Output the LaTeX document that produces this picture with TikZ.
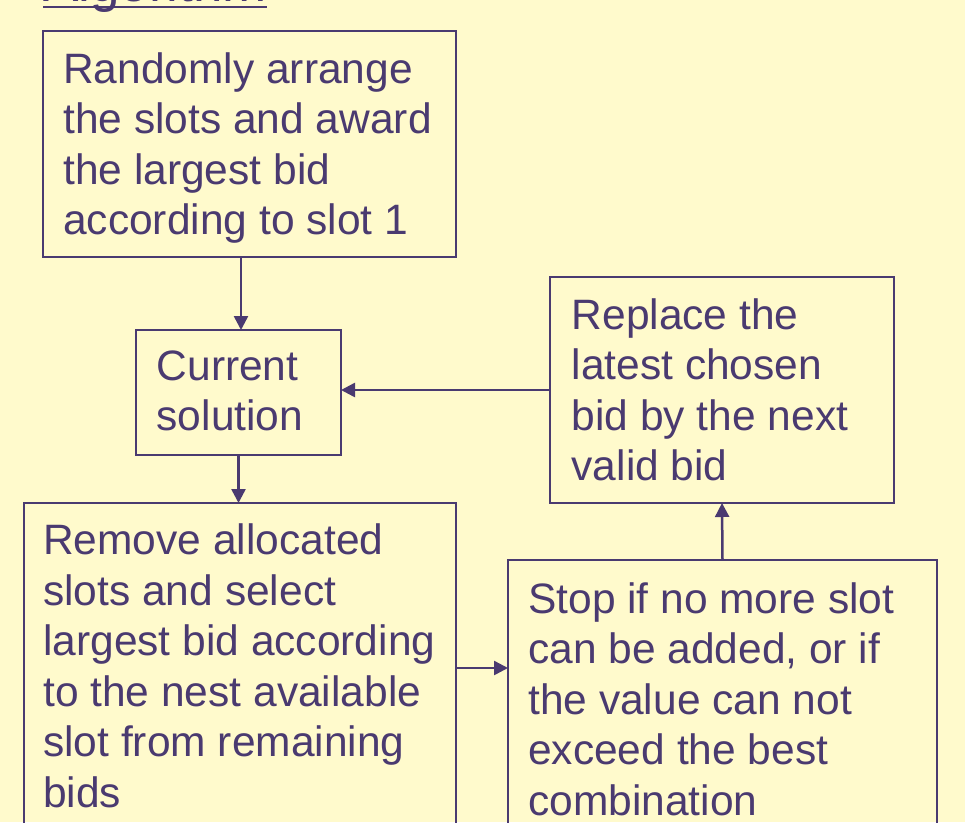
\documentclass[tikz,border=0pt]{standalone}
\usepackage{fontspec}
\setmainfont{Liberation Sans}
\usetikzlibrary{arrows.meta}
\definecolor{bg}{RGB}{255,250,204}
\definecolor{fg}{RGB}{74,58,112}
\newcommand\firstline{\rule{0pt}{36pt}}
\begin{document}
\begin{tikzpicture}[x=1pt,y=-1pt,
  box/.style={draw=fg, line width=2pt, inner sep=0pt, outer sep=0pt},
  txt/.style={anchor=north west, inner sep=0pt, align=left, text=fg, font=\fontsize{42.5}{50.5}\selectfont},
  conn/.style={draw=fg, line width=2.5pt, -{Triangle[length=14pt,width=14pt]}}]
\useasboundingbox (0,0) rectangle (965,822);
\fill[bg] (0,0) rectangle (965,822);
\clip (0,0) rectangle (965,822);

% title (mostly cut off at the top)
\node[anchor=base west, inner sep=0pt, text=fg, font=\fontsize{53}{60}\selectfont] (title) at (43,1.5) {Algorithm};
\draw[fg, line width=2.5pt] ([yshift=-5.5pt]title.base west) -- ([yshift=-5.5pt]title.base east);

% boxes
\node[box, minimum width=413pt, minimum height=226pt] (b1) at (249.5,144) {};
\node[box, minimum width=205pt, minimum height=125pt] (b2) at (238.5,392.5) {};
\node[box, minimum width=344pt, minimum height=226pt] (b3) at (722,390) {};
\node[box, minimum width=432pt, minimum height=357pt] (b4) at (240,681.5) {};
\node[box, minimum width=429pt, minimum height=300pt] (b5) at (722.5,710) {};

% texts
\node[txt] (t1) at (63,47) {\firstline Randomly arrange\\the slots and award\\the largest bid\\according to slot 1};
\node[txt] (t2) at (156.5,344) {\firstline Current\\solution};
\node[txt] (t3) at (571.5,293) {\firstline Replace the\\latest chosen\\bid by the next\\valid bid};
\node[txt] (t4) at (43,518.5) {\firstline Remove allocated\\slots and select\\largest bid according\\to the nest available\\slot from remaining\\bids};
\node[txt] (t5) at (528,577) {\firstline Stop if no more slot\\can be added, or if\\the value can not\\exceed the best\\combination};

% connectors
\draw[conn] ([xshift=-8.5pt]b1.south) -- ([xshift=2.5pt]b2.north);
\draw[conn] (b3.west) -- (b3.west -| b2.east);
\draw[conn] (b2.south) -- (b2.south |- b4.north);
\draw[conn] ([yshift=13.5pt]b4.east) -- ([yshift=13.5pt]b4.east -| b5.west);
\draw[conn] (b5.north) -- (b3.south);
\end{tikzpicture}
\end{document}
